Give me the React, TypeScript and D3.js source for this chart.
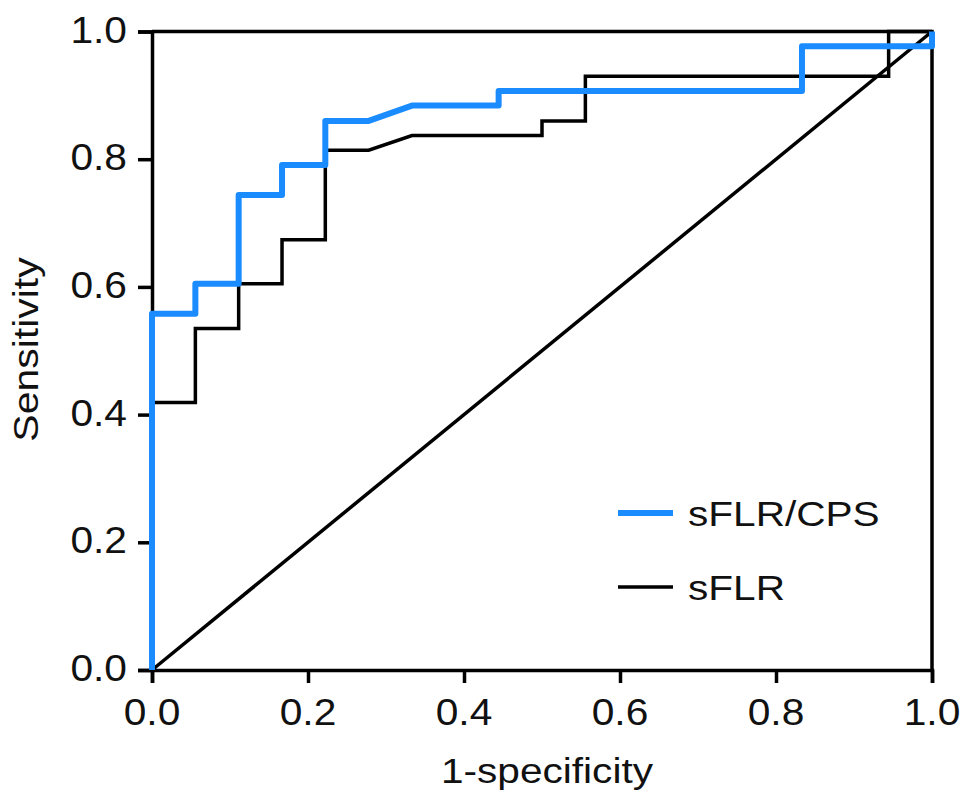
import React, { useEffect, useRef } from 'react';
import * as d3 from 'd3';

// ROC vertices (1-specificity, sensitivity)
const cpsFpr = [0, 0, 0.0556, 0.0556, 0.1111, 0.1111, 0.1667, 0.1667, 0.2222, 0.2222, 0.2778, 0.3333, 0.4444, 0.4444, 0.8333, 0.8333, 1.0, 1.0];
const cpsTpr = [0, 0.558, 0.558, 0.605, 0.605, 0.744, 0.744, 0.791, 0.791, 0.86, 0.86, 0.884, 0.884, 0.907, 0.907, 0.977, 0.977, 1.0];

const flrFpr = [0, 0, 0.0556, 0.0556, 0.1111, 0.1111, 0.1667, 0.1667, 0.2222, 0.2222, 0.2778, 0.3333, 0.5, 0.5, 0.5556, 0.5556, 0.9444, 0.9444, 1.0];
const flrTpr = [0, 0.419, 0.419, 0.535, 0.535, 0.605, 0.605, 0.674, 0.674, 0.814, 0.814, 0.837, 0.837, 0.86, 0.86, 0.93, 0.93, 1.0, 1.0];

const refLine = [0, 1];
const tickValues = [0, 0.2, 0.4, 0.6, 0.8, 1.0];
const seriesNames = ['sFLR/CPS', 'sFLR'];
const seriesColors = ['#1a8cff', '#000000'];

const FONT = 'Arial, "Liberation Sans", Helvetica, sans-serif';

const RocChart: React.FC = () => {
  const svgRef = useRef<SVGSVGElement | null>(null);

  useEffect(() => {
    if (!svgRef.current) return;
    const width = 969;
    const height = 808;
    const margin = { left: 152, right: 37, top: 31.5, bottom: 138 };

    const x = d3.scaleLinear().domain([0, 1]).range([margin.left, width - margin.right]);
    const y = d3.scaleLinear().domain([0, 1]).range([height - margin.bottom, margin.top]);

    const svg = d3.select(svgRef.current).attr('width', width).attr('height', height);
    svg.selectAll('*').remove();

    const line = d3.line<[number, number]>().x(d => x(d[0])).y(d => y(d[1]));
    const toPts = (xs: number[], ys: number[]) => xs.map((v, i) => [v, ys[i]] as [number, number]);

    // axes first so the curves sit on top
    const xAxis = svg.append('g')
      .attr('transform', `translate(0,${y(0)})`)
      .call(d3.axisBottom(x).tickValues(tickValues).tickSize(13).tickFormat(() => ''));
    const yAxis = svg.append('g')
      .attr('transform', `translate(${x(0)},0)`)
      .call(d3.axisLeft(y).tickValues(tickValues).tickSize(14).tickFormat(() => ''));
    [xAxis, yAxis].forEach(g => {
      g.select('.domain').attr('stroke', '#000').attr('stroke-width', 3.5);
      g.selectAll('.tick line').attr('stroke', '#000').attr('stroke-width', 3.5);
    });

    // frame top + right
    svg.append('path')
      .attr('d', line([[0, 1], [1, 1], [1, 0]]))
      .attr('fill', 'none')
      .attr('stroke', '#000')
      .attr('stroke-width', 3.5);

    // chance diagonal
    svg.append('path')
      .attr('d', line(refLine.map(v => [v, v] as [number, number])))
      .attr('fill', 'none')
      .attr('stroke', '#000')
      .attr('stroke-width', 3.5);

    // sFLR
    svg.append('path')
      .attr('d', line(toPts(flrFpr, flrTpr)))
      .attr('fill', 'none')
      .attr('stroke', seriesColors[1])
      .attr('stroke-width', 3.5)
      .attr('stroke-linejoin', 'miter');

    // sFLR/CPS
    svg.append('path')
      .attr('d', line(toPts(cpsFpr, cpsTpr)))
      .attr('fill', 'none')
      .attr('stroke', seriesColors[0])
      .attr('stroke-width', 6)
      .attr('stroke-linejoin', 'round');

    // tick labels
    svg.selectAll('text.xt')
      .data(tickValues)
      .enter()
      .append('text')
      .attr('class', 'xt')
      .attr('transform', d => `translate(${x(d)},725) scale(1.1,1)`)
      .attr('text-anchor', 'middle')
      .attr('font-family', FONT)
      .attr('font-size', 37)
      .attr('fill', '#111')
      .text(d => d.toFixed(1));

    svg.selectAll('text.yt')
      .data(tickValues)
      .enter()
      .append('text')
      .attr('class', 'yt')
      .attr('transform', d => `translate(127,${y(d) + 11}) scale(1.1,1)`)
      .attr('text-anchor', 'end')
      .attr('font-family', FONT)
      .attr('font-size', 37)
      .attr('fill', '#111')
      .text(d => d.toFixed(1));

    // axis titles
    svg.append('text')
      .attr('transform', `translate(547,783) scale(1.16,1)`)
      .attr('text-anchor', 'middle')
      .attr('font-family', FONT)
      .attr('font-size', 35)
      .attr('fill', '#111')
      .text('1-specificity');

    svg.append('text')
      .attr('transform', `translate(38,349.5) rotate(-90) scale(1.17,1)`)
      .attr('text-anchor', 'middle')
      .attr('font-family', FONT)
      .attr('font-size', 35)
      .attr('fill', '#111')
      .text('Sensitivity');

    // legend
    const legend = svg.append('g').attr('transform', 'translate(618,513)');
    seriesNames.forEach((name, i) => {
      const row = legend.append('g').attr('transform', `translate(0,${i * 74})`);
      row.append('line')
        .attr('x1', 0).attr('x2', 55)
        .attr('y1', 0).attr('y2', 0)
        .attr('stroke', seriesColors[i])
        .attr('stroke-width', i === 0 ? 6 : 3.5);
      row.append('text')
        .attr('transform', 'translate(70,13) scale(1.16,1)')
        .attr('font-family', FONT)
        .attr('font-size', 35)
        .attr('fill', '#111')
        .text(name);
    });
  }, []);

  return <svg ref={svgRef} style={{ display: 'block' }}></svg>;
};

export default function App() {
  return (
    <div>
      <style>{'body{margin:0;background:#fff}'}</style>
      <RocChart />
    </div>
  );
}
